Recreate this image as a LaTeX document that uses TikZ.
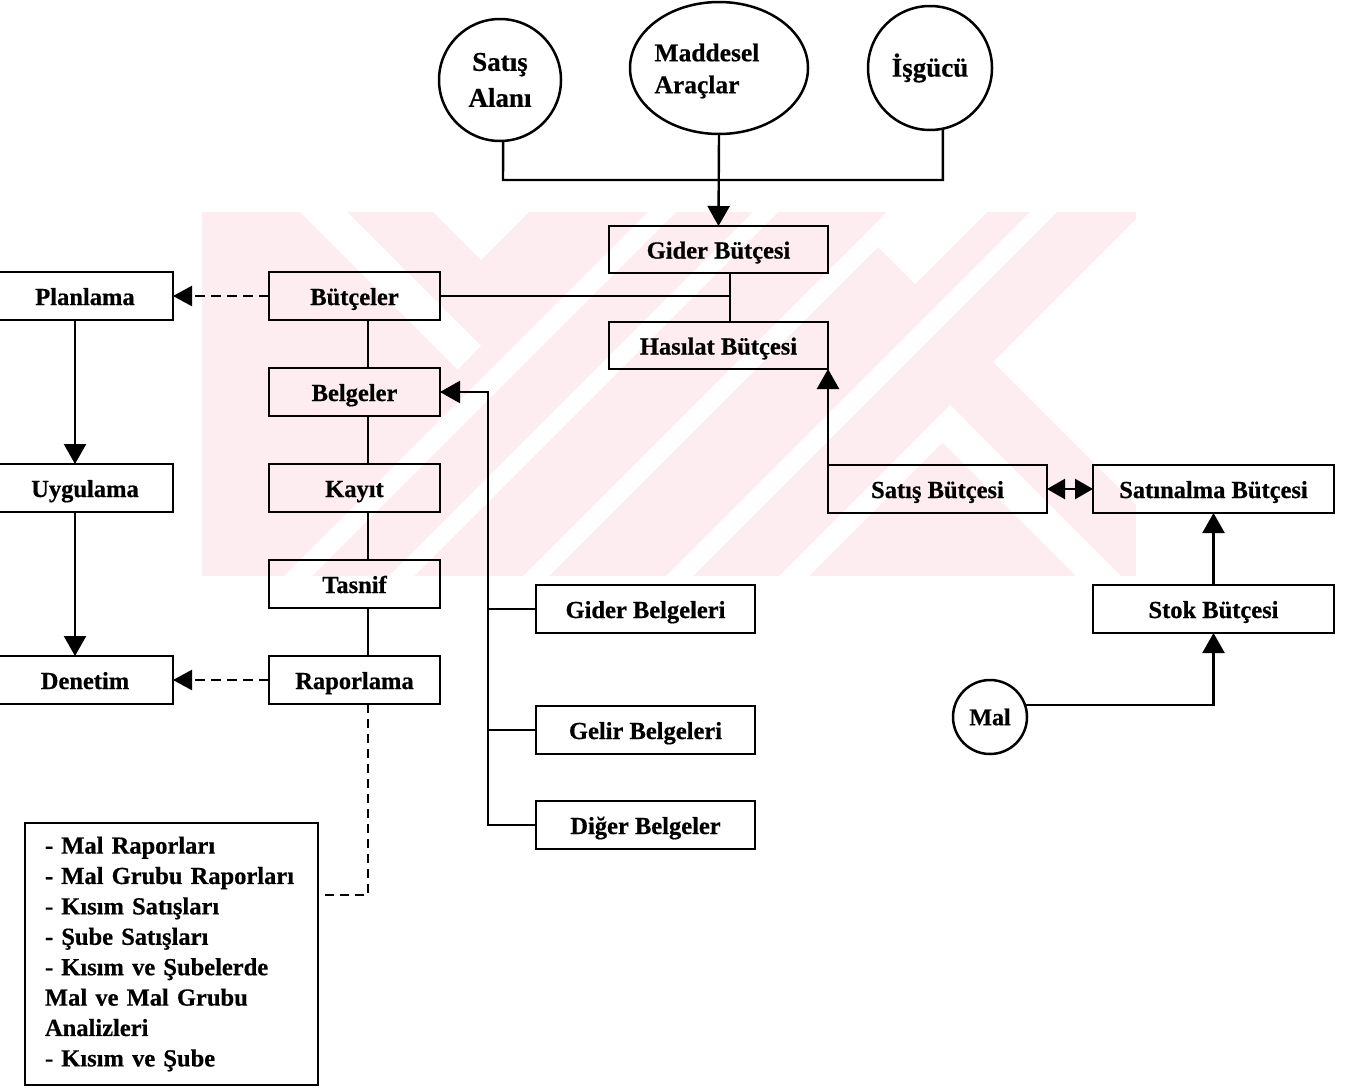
\documentclass[tikz,border=0pt]{standalone}
\usepackage{fontspec}
\setmainfont{Liberation Serif}[BoldFeatures={FakeBold=0.6}]
\usetikzlibrary{arrows.meta,shapes.geometric}

\definecolor{wmpink}{RGB}{253,236,240}

\begin{document}
\begin{tikzpicture}[x=1pt,y=-1pt,
  every node/.style={font=\fontsize{24.5}{30}\selectfont\bfseries},
  box/.style={draw,line width=2.6pt,inner sep=0pt,outer sep=0pt,minimum height=48pt,
              text height=21pt,text depth=3pt},
  round/.style={draw,circle,line width=2.5pt,inner sep=0pt,outer sep=0pt,align=center},
  link/.style={line width=2.4pt},
  arr/.style={link,-{Triangle[length=20pt,width=22pt]}},
  darr/.style={link,dash pattern=on 10pt off 6pt,-{Triangle[length=19pt,width=20pt]}},
  dline/.style={link,dash pattern=on 9pt off 6pt},
]
\useasboundingbox (0,0) rectangle (1346,1087);
\fill[white] (0,0) rectangle (1346,1087);

% faint background seal: pink field with white diagonal cuts
\begin{scope}
  \clip (202,212) rectangle (1136,576);
  \fill[wmpink] (202,212) rectangle (1136,576);
  \fill[white] (433,212) -- (529,212) -- (481,260) -- cycle;
  \fill[white] (300,212) -- (347,212) -- (481,346) -- (457.5,369.5) -- cycle;
  \fill[white] (648,212) -- (676,212) -- (312,576) -- (284,576) -- cycle;
  \fill[white] (753,212) -- (778,212) -- (414,576) -- (389,576) -- cycle;
  \fill[white] (887,212) -- (913,212) -- (549,576) -- (523,576) -- cycle;
  \fill[white] (887,212) -- (987,212) -- (915,284) -- (865,234) -- cycle;
  \fill[white] (1030,212) -- (1057,212) -- (693,576) -- (666,576) -- cycle;
  \fill[white] (993,362) -- (1143,212) -- (1300,212) -- (1300,669) -- cycle;
  \fill[white] (950,405) -- (965,420) -- (809,576) -- (779,576) -- cycle;
  \fill[white] (950,405) -- (927.5,427.5) -- (1076,576) -- (1121,576) -- cycle;
\end{scope}

% resources
\node[round,minimum size=122pt,font=\fontsize{27}{36}\selectfont\bfseries] (alan) at (500,80) {Satış\\Alanı};
\node[draw,ellipse,line width=2.5pt,minimum width=178pt,minimum height=132pt,inner sep=0pt,outer sep=0pt] (arac) at (719,68) {};
\node[align=left,font=\fontsize{25.5}{32}\selectfont\bfseries,anchor=west] (aractxt) at (651,71) {Maddesel\\Araçlar};
\node[round,minimum size=124pt,font=\fontsize{27}{32}\selectfont\bfseries] (isgucu) at (930,68) {İşgücü};

% budgets
\node[box,minimum width=219pt,minimum height=47pt] (gider) at (718.5,249.5) {Gider Bütçesi};
\node[box,minimum width=219pt,minimum height=47pt] (hasilat) at (718.5,345.5) {Hasılat Bütçesi};
\node[box,minimum width=219pt] (satis) at (937.5,489) {Satış Bütçesi};
\node[box,minimum width=241pt] (satinalma) at (1213.5,489) {Satınalma Bütçesi};
\node[box,minimum width=241pt] (stok) at (1213.5,609) {Stok Bütçesi};
\node[round,minimum size=74pt,font=\fontsize{24}{28}\selectfont\bfseries] (mal) at (990,717) {Mal};

% management cycle
\node[box,minimum width=176pt] (plan) at (85,296) {Planlama};
\node[box,minimum width=176pt] (uyg) at (85,488) {Uygulama};
\node[box,minimum width=176pt] (denetim) at (85,680) {Denetim};

% accounting chain
\node[box,minimum width=171pt] (butceler) at (354.5,296) {Bütçeler};
\node[box,minimum width=171pt] (belgeler) at (354.5,392) {Belgeler};
\node[box,minimum width=171pt] (kayit) at (354.5,488) {Kayıt};
\node[box,minimum width=171pt] (tasnif) at (354.5,584) {Tasnif};
\node[box,minimum width=171pt] (rapor) at (354.5,680) {Raporlama};

% documents
\node[box,minimum width=219pt] (giderb) at (645.5,609) {Gider Belgeleri};
\node[box,minimum width=219pt] (gelirb) at (645.5,730) {Gelir Belgeleri};
\node[box,minimum width=219pt] (digerb) at (645.5,825) {Diğer Belgeler};

% report list
\node[draw,line width=2.6pt,outer sep=0pt,anchor=north west,minimum width=293pt,minimum height=262pt,
      text width=253pt,inner xsep=20pt,inner ysep=0pt,align=left,
      font=\fontsize{24.5}{30.4}\selectfont\bfseries] (liste) at (25,823)
  {- Mal Raporları\\- Mal Grubu Raporları\\- Kısım Satışları\\- Şube Satışları\\- Kısım ve Şubelerde\\Mal ve Mal Grubu\\Analizleri\\- Kısım ve Şube};

% helper points
\coordinate (bus) at (503,180);
\coordinate (jn) at (730,296);
\coordinate (cx) at (368,0);
\coordinate (px) at (75,0);
\coordinate (bv) at (488,0);
\coordinate (rl) at (368,895);

% resources into the expense budget
\draw[link] (alan.-87) -- (bus) -- (bus -| isgucu.-78) -- (isgucu.-78);
\draw[arr] (arac.south) -- (gider.north);

% budgets to the chain
\draw[link] (gider.south -| jn) -- (hasilat.north -| jn);
\draw[link] (butceler.east) -- (jn);
\draw[arr] (satis.north west) -- (hasilat.south east);
\draw[link,{Triangle[length=18pt,width=20pt]}-{Triangle[length=18pt,width=20pt]}] (satis.east) -- (satinalma.west);
\draw[arr] (stok.north) -- (satinalma.south);
\draw[arr] (mal.19) -| (stok.south);

% planning cycle
\draw[arr] (plan.south -| px) -- (uyg.north -| px);
\draw[arr] (uyg.south -| px) -- (denetim.north -| px);
\draw[darr] (butceler.west) -- (plan.east);
\draw[darr] (rapor.west) -- (denetim.east);

% chain links
\draw[link] (butceler.south -| cx) -- (belgeler.north -| cx);
\draw[link] (belgeler.south -| cx) -- (kayit.north -| cx);
\draw[link] (kayit.south -| cx) -- (tasnif.north -| cx);
\draw[link] (tasnif.south -| cx) -- (rapor.north -| cx);
\draw[dline] (rapor.south -| cx) -- (rl) -- (rl -| liste.east);

% document sources
\draw[arr] (digerb.west) -- (digerb.west -| bv) -- (belgeler.east -| bv) -- (belgeler.east);
\draw[link] (giderb.west -| bv) -- (giderb.west);
\draw[link] (gelirb.west -| bv) -- (gelirb.west);
\end{tikzpicture}
\end{document}
